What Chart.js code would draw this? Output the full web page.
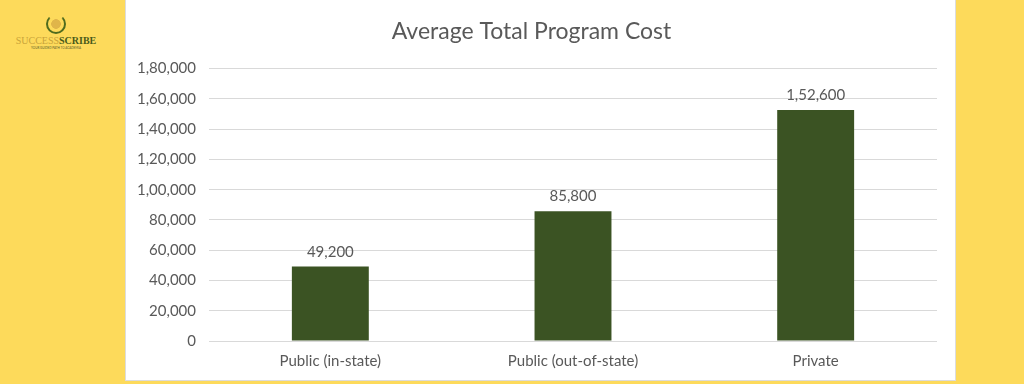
<!DOCTYPE html>
<html lang="en">
<head>
  <meta charset="UTF-8">
  <title>Average Total Program Cost</title>
  <script src="https://cdn.jsdelivr.net/npm/chart.js"></script>
  <style>
    html, body { margin: 0; padding: 0; }
    body { width: 1024px; height: 384px; background: #fdda5b; position: relative; overflow: hidden; font-family: Lato, "Open Sans", sans-serif; }
    #panel { position: absolute; left: 125px; top: 0; width: 829px; height: 380px; background: #fff; border: 1px solid #dcdcdc; border-top: none; }
    #logo { position: absolute; left: 14px; top: 14px; width: 84px; text-align: center; }
    #logo .mark { width: 16px; height: 16px; margin: 0 auto 2px; border: 2px solid #4f6b1e; border-top-color: transparent; border-radius: 50%; background: radial-gradient(circle, #e0b54a 40%, transparent 45%); }
    #logo .name { font-family: "Liberation Serif", serif; font-size: 10px; line-height: 10px; white-space: nowrap; }
    #logo .name .a { color: #c9a43a; }
    #logo .name .b { color: #4a5a1a; font-weight: bold; }
    #logo .tag { font-size: 3px; color: #5a5a2a; line-height: 5px; }
  </style>
</head>
<body>
  <div id="logo">
    <div class="mark"></div>
    <div class="name"><span class="a">SUCCESS</span><span class="b">SCRIBE</span></div>
    <div class="tag">YOUR GUIDED PATH TO ACADEMIA</div>
  </div>
  <div id="panel">
    <canvas id="costChart" width="829" height="380"></canvas>
  </div>

  <script>
    // chart data
    const categories = ['Public (in-state)', 'Public (out-of-state)', 'Private'];
    const costs = [49200, 85800, 152600];
    const yTicks = [0, 20000, 40000, 60000, 80000, 100000, 120000, 140000, 160000, 180000];

    const textColor = '#595959';
    const fontFamily = 'Lato, "Open Sans", sans-serif';
    const fmt = v => v.toLocaleString('en-IN');

    // draws the value above each bar
    const valueLabels = {
      id: 'valueLabels',
      afterDatasetsDraw(chart) {
        const ctx = chart.ctx;
        const meta = chart.getDatasetMeta(0);
        ctx.save();
        ctx.font = '15px ' + fontFamily;
        ctx.fillStyle = textColor;
        ctx.textAlign = 'center';
        ctx.textBaseline = 'bottom';
        meta.data.forEach((bar, i) => {
          ctx.fillText(fmt(costs[i]), bar.x, bar.y - 7);
        });
        ctx.restore();
      }
    };

    const ctx = document.getElementById('costChart').getContext('2d');
    new Chart(ctx, {
      type: 'bar',
      data: {
        labels: categories,
        datasets: [{
          data: costs,
          backgroundColor: '#3b5323',
          categoryPercentage: 1,
          barPercentage: 0.317
        }]
      },
      options: {
        responsive: false,
        animation: false,
        layout: { padding: { left: 0, right: 18, top: 0, bottom: 0 } },
        plugins: {
          legend: { display: false },
          tooltip: { enabled: false },
          title: {
            display: true,
            text: 'Average Total Program Cost',
            color: textColor,
            font: { family: fontFamily, size: 23, weight: 'normal' },
            padding: { top: 18, bottom: 23 }
          }
        },
        scales: {
          x: {
            afterFit: axis => { axis.height = 39; },
            grid: { display: false, drawTicks: false },
            border: { display: false },
            ticks: { color: textColor, font: { family: fontFamily, size: 15 }, padding: 11 }
          },
          y: {
            min: 0,
            max: 180000,
            afterBuildTicks: axis => { axis.ticks = yTicks.map(v => ({ value: v })); },
            afterFit: axis => { axis.width = 83; },
            grid: { color: '#d9d9d9', lineWidth: 1, drawTicks: false },
            border: { display: false },
            ticks: {
              color: textColor,
              font: { family: fontFamily, size: 15 },
              padding: 13,
              callback: v => fmt(v)
            }
          }
        }
      },
      plugins: [valueLabels]
    });
  </script>
</body>
</html>
